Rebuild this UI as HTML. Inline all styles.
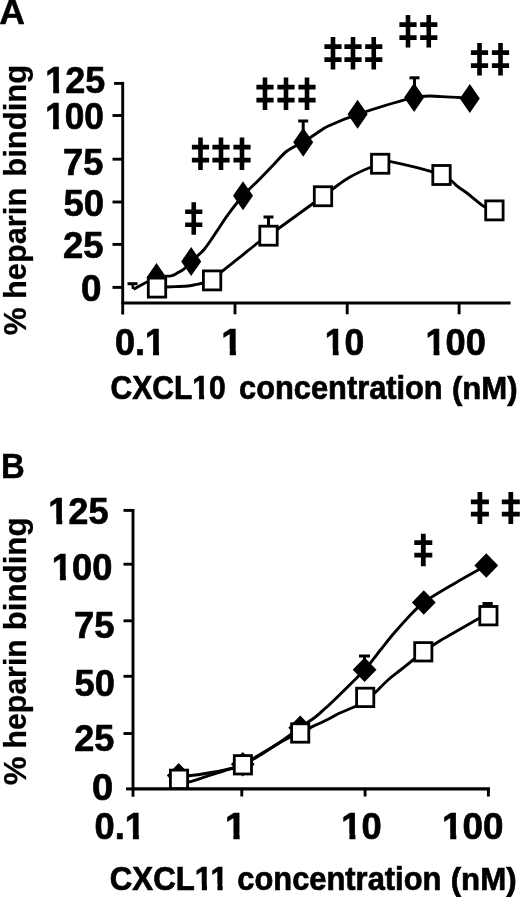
<!DOCTYPE html>
<html><head><meta charset="utf-8"><title>Heparin binding</title>
<style>html,body{margin:0;padding:0;background:#fff}svg{display:block;will-change:transform;filter:blur(0.45px);font-family:"Liberation Sans",sans-serif;font-weight:bold;fill:#000}</style>
</head><body>
<svg width="520" height="897" viewBox="0 0 520 897">
<rect width="520" height="897" fill="#fff"/>
<g transform="translate(-0.65,24.43) scale(1.0006,1)"><text font-size="35.66" stroke="#000" stroke-width="0.45">A</text></g>
<line x1="122.7" y1="81.95" x2="122.7" y2="314.5" stroke="#000" stroke-width="2.9"/>
<line x1="121.3" y1="303.0" x2="510.6" y2="303.0" stroke="#000" stroke-width="3.1"/>
<line x1="114.1" y1="83.4" x2="122.7" y2="83.4" stroke="#000" stroke-width="2.9"/>
<line x1="112.5" y1="115.5" x2="122.7" y2="115.5" stroke="#000" stroke-width="2.9"/>
<line x1="112.5" y1="159.2" x2="122.7" y2="159.2" stroke="#000" stroke-width="2.9"/>
<line x1="112.5" y1="202" x2="122.7" y2="202" stroke="#000" stroke-width="2.9"/>
<line x1="112.5" y1="244.4" x2="122.7" y2="244.4" stroke="#000" stroke-width="2.9"/>
<line x1="112.5" y1="287.4" x2="122.7" y2="287.4" stroke="#000" stroke-width="2.9"/>
<line x1="235" y1="303.0" x2="235" y2="314.3" stroke="#000" stroke-width="2.9"/>
<line x1="347.2" y1="303.0" x2="347.2" y2="314.3" stroke="#000" stroke-width="2.9"/>
<line x1="459.1" y1="303.0" x2="459.1" y2="314.3" stroke="#000" stroke-width="2.9"/>
<g transform="translate(45.13,92.73) scale(0.9715,1)"><text font-size="37.04" stroke="#000" stroke-width="0.7">125</text><rect x="0.38" y="-5.83" width="7.91" height="7.48" fill="#fff"/><rect x="14.38" y="-5.83" width="7.14" height="7.48" fill="#fff"/></g>
<g transform="translate(45.18,129.48) scale(0.9518,1)"><text font-size="37.04" stroke="#000" stroke-width="0.7">100</text><rect x="0.38" y="-5.83" width="7.91" height="7.48" fill="#fff"/><rect x="14.38" y="-5.83" width="7.14" height="7.48" fill="#fff"/></g>
<g transform="translate(63.10,174.97) scale(0.9648,1)"><text font-size="37.57" stroke="#000" stroke-width="0.7">75</text></g>
<g transform="translate(63.46,216.03) scale(0.9838,1)"><text font-size="37.04" stroke="#000" stroke-width="0.7">50</text></g>
<g transform="translate(63.06,258.43) scale(0.9847,1)"><text font-size="37.04" stroke="#000" stroke-width="0.7">25</text></g>
<g transform="translate(80.88,300.98) scale(0.9937,1)"><text font-size="37.04" stroke="#000" stroke-width="0.7">0</text></g>
<g transform="translate(114.91,354.68) scale(0.9737,1)"><text font-size="37.04" stroke="#000" stroke-width="0.7">0.1</text><rect x="31.27" y="-5.83" width="7.91" height="7.48" fill="#fff"/><rect x="45.27" y="-5.83" width="7.14" height="7.48" fill="#fff"/></g>
<g transform="translate(221.31,354.80) scale(1.0232,1)"><text font-size="36.81" stroke="#000" stroke-width="0.7">1</text><rect x="0.37" y="-5.81" width="7.87" height="7.46" fill="#fff"/><rect x="14.29" y="-5.81" width="7.11" height="7.46" fill="#fff"/></g>
<g transform="translate(324.87,354.68) scale(0.9584,1)"><text font-size="37.04" stroke="#000" stroke-width="0.7">10</text><rect x="0.38" y="-5.83" width="7.91" height="7.48" fill="#fff"/><rect x="14.38" y="-5.83" width="7.14" height="7.48" fill="#fff"/></g>
<g transform="translate(425.41,354.88) scale(0.9777,1)"><text font-size="37.04" stroke="#000" stroke-width="0.7">100</text><rect x="0.38" y="-5.83" width="7.91" height="7.48" fill="#fff"/><rect x="14.38" y="-5.83" width="7.14" height="7.48" fill="#fff"/></g>
<g transform="translate(110.55,399.22) scale(0.9119,1)"><text font-size="32.96" stroke="#000" stroke-width="0.7">CXCL10</text><rect x="89.84" y="-5.41" width="7.22" height="7.06" fill="#fff"/><rect x="102.58" y="-5.41" width="6.50" height="7.06" fill="#fff"/></g>
<g transform="translate(239.12,399.22) scale(0.9341,1)"><text font-size="32.97" stroke="#000" stroke-width="0.7">concentration</text></g>
<g transform="translate(451.99,399.08) scale(0.9662,1)"><text font-size="32.23" stroke="#000" stroke-width="0.7">(nM)</text></g>
<text transform="translate(25.81,176.64) rotate(-90) scale(1,0.9946)" font-size="30.97" stroke="#000" stroke-width="0.25">binding</text>
<text transform="translate(25.85,299.03) rotate(-90) scale(1,0.9924)" font-size="30.82" stroke="#000" stroke-width="0.25">heparin</text>
<text transform="translate(25.56,335.22) rotate(-90) scale(1,1.0082)" font-size="31.39" stroke="#000" stroke-width="0.25">%</text>
<path d="M133.50 289.20 C137.33 287.25 150.22 279.73 156.50 277.50 C162.78 275.27 167.73 276.55 171.20 275.80 C174.67 275.05 175.13 274.17 177.30 273.00 C179.47 271.83 181.88 270.72 184.20 268.80 C186.52 266.88 187.85 264.77 191.20 261.50 C194.55 258.23 200.10 254.13 204.30 249.20 C208.50 244.27 212.45 237.67 216.40 231.90 C220.35 226.13 223.57 220.62 228.00 214.60 C232.43 208.58 237.92 201.53 243.00 195.80 C248.08 190.07 253.45 185.33 258.50 180.20 C263.55 175.07 268.55 169.87 273.30 165.00 C278.05 160.13 282.02 154.78 287.00 151.00 C291.98 147.22 298.32 145.22 303.20 142.30 C308.08 139.38 312.03 136.25 316.30 133.50 C320.57 130.75 321.92 129.00 328.80 125.80 C335.68 122.60 343.38 119.00 357.60 114.30 C371.82 109.60 400.03 100.55 414.10 97.60 C428.17 94.65 432.72 96.45 442.00 96.60 C451.28 96.75 465.17 98.18 469.80 98.50" fill="none" stroke="#000" stroke-width="2.9" stroke-linejoin="round" stroke-linecap="butt"/>
<path d="M157.00 287.60 C160.00 287.43 170.50 286.82 175.00 286.60 C179.50 286.38 180.83 286.57 184.00 286.30 C187.17 286.03 189.32 285.98 194.00 285.00 C198.68 284.02 207.38 282.70 212.10 280.40 C216.82 278.10 217.65 275.07 222.30 271.20 C226.95 267.33 234.03 261.97 240.00 257.20 C245.97 252.43 253.35 246.18 258.10 242.60 C262.85 239.02 257.68 243.42 268.50 235.70 C279.32 227.97 309.42 206.03 323.00 196.25 C336.58 186.47 340.47 182.42 350.00 177.00 C359.53 171.58 373.03 166.23 380.20 163.75 C387.37 161.27 382.78 160.22 393.00 162.10 C403.22 163.97 430.67 170.88 441.50 175.00 C452.33 179.12 453.88 183.88 458.00 186.80 C462.12 189.72 463.25 190.25 466.25 192.50 C469.25 194.75 472.96 197.92 476.00 200.30 C479.04 202.68 481.43 205.12 484.50 206.80 C487.57 208.48 492.75 209.80 494.40 210.40" fill="none" stroke="#000" stroke-width="2.9" stroke-linejoin="round" stroke-linecap="butt"/>
<line x1="127.5" y1="283.7" x2="137.5" y2="283.7" stroke="#000" stroke-width="3"/>
<line x1="132.5" y1="283.7" x2="133" y2="289" stroke="#000" stroke-width="2.5"/>
<line x1="268.5" y1="217" x2="268.5" y2="228" stroke="#000" stroke-width="3"/>
<line x1="263.5" y1="217" x2="273.5" y2="217" stroke="#000" stroke-width="3"/>
<line x1="303.2" y1="121" x2="303.2" y2="130" stroke="#000" stroke-width="3"/>
<line x1="298.2" y1="121" x2="308.2" y2="121" stroke="#000" stroke-width="3"/>
<line x1="414.5" y1="77.8" x2="414.5" y2="86" stroke="#000" stroke-width="3"/>
<line x1="409.5" y1="77.8" x2="419.5" y2="77.8" stroke="#000" stroke-width="3"/>
<path d="M156.5 263.0L166.5 277.5L156.5 292.0L146.5 277.5Z" fill="#000"/>
<path d="M191.2 247.0L201.2 261.5L191.2 276.0L181.2 261.5Z" fill="#000"/>
<path d="M243 181.3L253.0 195.8L243 210.3L233.0 195.8Z" fill="#000"/>
<path d="M303.2 127.80000000000001L313.2 142.3L303.2 156.8L293.2 142.3Z" fill="#000"/>
<path d="M357.6 99.8L367.6 114.3L357.6 128.8L347.6 114.3Z" fill="#000"/>
<path d="M414.1 83.1L424.1 97.6L414.1 112.1L404.1 97.6Z" fill="#000"/>
<path d="M469.8 84.0L479.8 98.5L469.8 113.0L459.8 98.5Z" fill="#000"/>
<rect x="148.30" y="278.10" width="17.40" height="19.00" fill="#fff" stroke="#000" stroke-width="2.8"/>
<rect x="203.40" y="270.90" width="17.40" height="19.00" fill="#fff" stroke="#000" stroke-width="2.8"/>
<rect x="259.80" y="226.20" width="17.40" height="19.00" fill="#fff" stroke="#000" stroke-width="2.8"/>
<rect x="314.30" y="186.75" width="17.40" height="19.00" fill="#fff" stroke="#000" stroke-width="2.8"/>
<rect x="371.50" y="154.25" width="17.40" height="19.00" fill="#fff" stroke="#000" stroke-width="2.8"/>
<rect x="432.80" y="165.50" width="17.40" height="19.00" fill="#fff" stroke="#000" stroke-width="2.8"/>
<rect x="485.70" y="200.90" width="17.40" height="19.00" fill="#fff" stroke="#000" stroke-width="2.8"/>
<path d="M191.45 202.2h4.6v32.5h-4.6z M185.15 209.50h17.2v4.6h-17.2z M185.15 222.50h17.2v4.6h-17.2z" fill="#000"/>
<path d="M198.20 137.5h4.6v32.5h-4.6z M191.90 144.80h17.2v4.6h-17.2z M191.90 157.80h17.2v4.6h-17.2z" fill="#000"/>
<path d="M218.70 137.5h4.6v32.5h-4.6z M212.40 144.80h17.2v4.6h-17.2z M212.40 157.80h17.2v4.6h-17.2z" fill="#000"/>
<path d="M239.70 137.5h4.6v32.5h-4.6z M233.40 144.80h17.2v4.6h-17.2z M233.40 157.80h17.2v4.6h-17.2z" fill="#000"/>
<path d="M262.70 77.5h4.6v32.5h-4.6z M256.40 84.80h17.2v4.6h-17.2z M256.40 97.80h17.2v4.6h-17.2z" fill="#000"/>
<path d="M283.70 77.5h4.6v32.5h-4.6z M277.40 84.80h17.2v4.6h-17.2z M277.40 97.80h17.2v4.6h-17.2z" fill="#000"/>
<path d="M304.70 77.5h4.6v32.5h-4.6z M298.40 84.80h17.2v4.6h-17.2z M298.40 97.80h17.2v4.6h-17.2z" fill="#000"/>
<path d="M330.70 37h4.6v32.5h-4.6z M324.40 44.30h17.2v4.6h-17.2z M324.40 57.30h17.2v4.6h-17.2z" fill="#000"/>
<path d="M350.70 37h4.6v32.5h-4.6z M344.40 44.30h17.2v4.6h-17.2z M344.40 57.30h17.2v4.6h-17.2z" fill="#000"/>
<path d="M371.45 37h4.6v32.5h-4.6z M365.15 44.30h17.2v4.6h-17.2z M365.15 57.30h17.2v4.6h-17.2z" fill="#000"/>
<path d="M405.70 15h4.6v32.5h-4.6z M399.40 22.30h17.2v4.6h-17.2z M399.40 35.30h17.2v4.6h-17.2z" fill="#000"/>
<path d="M426.45 15h4.6v32.5h-4.6z M420.15 22.30h17.2v4.6h-17.2z M420.15 35.30h17.2v4.6h-17.2z" fill="#000"/>
<path d="M477.20 43h4.6v32.5h-4.6z M470.90 50.30h17.2v4.6h-17.2z M470.90 63.30h17.2v4.6h-17.2z" fill="#000"/>
<path d="M498.20 43h4.6v32.5h-4.6z M491.90 50.30h17.2v4.6h-17.2z M491.90 63.30h17.2v4.6h-17.2z" fill="#000"/>
<g transform="translate(1.02,477.77) scale(0.9314,1)"><text font-size="35.29" stroke="#000" stroke-width="0.45">B</text></g>
<line x1="133" y1="508.9" x2="133" y2="796.8" stroke="#000" stroke-width="2.9"/>
<line x1="131.6" y1="788.9" x2="490" y2="788.9" stroke="#000" stroke-width="3.2"/>
<line x1="123.5" y1="510.4" x2="133" y2="510.4" stroke="#000" stroke-width="2.9"/>
<line x1="123.5" y1="564.2" x2="133" y2="564.2" stroke="#000" stroke-width="2.9"/>
<line x1="123.5" y1="620.8" x2="133" y2="620.8" stroke="#000" stroke-width="2.9"/>
<line x1="123.5" y1="676.3" x2="133" y2="676.3" stroke="#000" stroke-width="2.9"/>
<line x1="123.5" y1="733.5" x2="133" y2="733.5" stroke="#000" stroke-width="2.9"/>
<line x1="126" y1="788.9" x2="133" y2="788.9" stroke="#000" stroke-width="3"/>
<line x1="241.8" y1="788.9" x2="241.8" y2="796.5" stroke="#000" stroke-width="2.9"/>
<line x1="365.1" y1="788.9" x2="365.1" y2="796.5" stroke="#000" stroke-width="2.9"/>
<line x1="488.4" y1="788.9" x2="488.4" y2="796.5" stroke="#000" stroke-width="2.9"/>
<g transform="translate(48.22,524.03) scale(0.9767,1)"><text font-size="37.04" stroke="#000" stroke-width="0.7">125</text><rect x="0.38" y="-5.83" width="7.91" height="7.48" fill="#fff"/><rect x="14.38" y="-5.83" width="7.14" height="7.48" fill="#fff"/></g>
<g transform="translate(51.81,579.83) scale(0.9795,1)"><text font-size="37.04" stroke="#000" stroke-width="0.7">100</text><rect x="0.38" y="-5.83" width="7.91" height="7.48" fill="#fff"/><rect x="14.38" y="-5.83" width="7.14" height="7.48" fill="#fff"/></g>
<g transform="translate(73.89,637.77) scale(0.9699,1)"><text font-size="37.57" stroke="#000" stroke-width="0.7">75</text></g>
<g transform="translate(74.56,695.88) scale(0.9786,1)"><text font-size="37.04" stroke="#000" stroke-width="0.7">50</text></g>
<g transform="translate(74.27,750.83) scale(0.9744,1)"><text font-size="37.04" stroke="#000" stroke-width="0.7">25</text></g>
<g transform="translate(92.03,799.93) scale(1.0282,1)"><text font-size="37.04" stroke="#000" stroke-width="0.7">0</text></g>
<g transform="translate(94.60,839.13) scale(0.9783,1)"><text font-size="37.04" stroke="#000" stroke-width="0.7">0.1</text><rect x="31.27" y="-5.83" width="7.91" height="7.48" fill="#fff"/><rect x="45.27" y="-5.83" width="7.14" height="7.48" fill="#fff"/></g>
<g transform="translate(224.89,839.15) scale(1.0323,1)"><text font-size="36.81" stroke="#000" stroke-width="0.7">1</text><rect x="0.37" y="-5.81" width="7.87" height="7.46" fill="#fff"/><rect x="14.29" y="-5.81" width="7.11" height="7.46" fill="#fff"/></g>
<g transform="translate(341.31,839.13) scale(0.9800,1)"><text font-size="37.04" stroke="#000" stroke-width="0.7">10</text><rect x="0.38" y="-5.83" width="7.91" height="7.48" fill="#fff"/><rect x="14.38" y="-5.83" width="7.14" height="7.48" fill="#fff"/></g>
<g transform="translate(441.97,839.13) scale(0.9951,1)"><text font-size="37.04" stroke="#000" stroke-width="0.7">100</text><rect x="0.38" y="-5.83" width="7.91" height="7.48" fill="#fff"/><rect x="14.38" y="-5.83" width="7.14" height="7.48" fill="#fff"/></g>
<g transform="translate(109.80,889.72) scale(0.9519,1)"><text font-size="32.82" stroke="#000" stroke-width="0.7">CXCL11</text><rect x="89.45" y="-5.40" width="7.19" height="7.05" fill="#fff"/><rect x="102.14" y="-5.40" width="6.48" height="7.05" fill="#fff"/><rect x="105.89" y="-5.40" width="7.19" height="7.05" fill="#fff"/><rect x="118.59" y="-5.40" width="6.48" height="7.05" fill="#fff"/></g>
<g transform="translate(237.32,889.72) scale(0.9398,1)"><text font-size="32.84" stroke="#000" stroke-width="0.7">concentration</text></g>
<g transform="translate(450.69,890.08) scale(0.9693,1)"><text font-size="32.23" stroke="#000" stroke-width="0.7">(nM)</text></g>
<text transform="translate(25.81,630.26) rotate(-90) scale(1,0.9854)" font-size="31.25" stroke="#000" stroke-width="0.25">binding</text>
<text transform="translate(25.85,748.49) rotate(-90) scale(1,1.0103)" font-size="30.27" stroke="#000" stroke-width="0.25">heparin</text>
<text transform="translate(25.56,785.25) rotate(-90) scale(1,0.9745)" font-size="32.47" stroke="#000" stroke-width="0.25">%</text>
<path d="M178.70 775.40 C180.38 775.47 183.42 776.28 188.80 775.80 C194.18 775.32 203.55 773.83 211.00 772.50 C218.45 771.17 228.20 769.18 233.50 767.80 C238.80 766.42 238.05 766.62 242.80 764.20 C247.55 761.78 255.63 757.10 262.00 753.30 C268.37 749.50 274.63 745.67 281.00 741.40 C287.37 737.13 294.37 731.85 300.20 727.70 C306.03 723.55 311.87 719.70 316.00 716.50 C320.13 713.30 322.08 711.12 325.00 708.50 C327.92 705.88 326.90 707.25 333.50 700.80 C340.10 694.35 356.78 678.27 364.60 669.80 C372.42 661.33 375.58 656.00 380.40 650.00 C385.22 644.00 389.15 638.93 393.50 633.80 C397.85 628.67 401.45 624.42 406.50 619.20 C411.55 613.98 415.72 608.50 423.80 602.50 C431.88 596.50 444.58 589.37 455.00 583.20 C465.42 577.03 481.08 568.45 486.30 565.50" fill="none" stroke="#000" stroke-width="2.9" stroke-linejoin="round" stroke-linecap="butt"/>
<path d="M179.00 780.00 C180.63 780.33 184.30 782.57 188.80 782.00 C193.30 781.43 200.22 778.43 206.00 776.60 C211.78 774.77 217.37 772.97 223.50 771.00 C229.63 769.03 236.38 767.65 242.80 764.80 C249.22 761.95 255.63 757.72 262.00 753.90 C268.37 750.08 274.63 745.52 281.00 741.90 C287.37 738.28 292.87 735.72 300.20 732.20 C307.53 728.68 318.50 723.95 325.00 720.80 C331.50 717.65 334.10 715.72 339.20 713.30 C344.30 710.88 351.27 708.55 355.60 706.30 C359.93 704.05 362.00 702.03 365.20 699.80 C368.40 697.57 371.00 696.20 374.80 692.90 C378.60 689.60 383.72 683.82 388.00 680.00 C392.28 676.18 396.33 673.33 400.50 670.00 C404.67 666.67 409.22 663.03 413.00 660.00 C416.78 656.97 418.50 655.13 423.20 651.80 C427.90 648.47 435.07 643.77 441.20 640.00 C447.33 636.23 452.13 633.67 460.00 629.20 C467.87 624.73 483.67 615.87 488.40 613.20" fill="none" stroke="#000" stroke-width="2.9" stroke-linejoin="round" stroke-linecap="butt"/>
<line x1="364.5" y1="656" x2="364.5" y2="662" stroke="#000" stroke-width="3"/>
<line x1="359.0" y1="656" x2="370.0" y2="656" stroke="#000" stroke-width="3"/>
<line x1="482.5" y1="603.9" x2="492.7" y2="603.9" stroke="#000" stroke-width="3.8"/>
<path d="M178.7 763.1L190.6 775.4L178.7 787.6999999999999L166.79999999999998 775.4Z" fill="#000"/>
<path d="M242.8 751.9000000000001L254.70000000000002 764.2L242.8 776.5L230.9 764.2Z" fill="#000"/>
<path d="M300.2 715.4000000000001L312.09999999999997 727.7L300.2 740.0L288.3 727.7Z" fill="#000"/>
<path d="M364.6 657.5L376.5 669.8L364.6 682.0999999999999L352.70000000000005 669.8Z" fill="#000"/>
<path d="M423.8 590.2L435.7 602.5L423.8 614.8L411.90000000000003 602.5Z" fill="#000"/>
<path d="M486.3 553.2L498.2 565.5L486.3 577.8L474.40000000000003 565.5Z" fill="#000"/>
<rect x="170.40" y="770.10" width="17.20" height="18.40" fill="#fff" stroke="#000" stroke-width="2.8"/>
<rect x="234.30" y="755.60" width="17.20" height="18.40" fill="#fff" stroke="#000" stroke-width="2.8"/>
<rect x="291.60" y="723.80" width="17.20" height="18.40" fill="#fff" stroke="#000" stroke-width="2.8"/>
<rect x="356.60" y="688.20" width="17.20" height="18.40" fill="#fff" stroke="#000" stroke-width="2.8"/>
<rect x="414.70" y="642.60" width="17.20" height="18.40" fill="#fff" stroke="#000" stroke-width="2.8"/>
<rect x="479.80" y="606.50" width="17.20" height="18.40" fill="#fff" stroke="#000" stroke-width="2.8"/>
<path d="M420.90 533.8h4.8v32.4h-4.8z M414.30 540.35h18v4.7h-18z M414.30 552.85h18v4.7h-18z" fill="#000"/>
<path d="M477.50 492h4.8v32h-4.8z M470.90 499.55h18v4.7h-18z M470.90 511.75h18v4.7h-18z" fill="#000"/>
<path d="M508.40 492h4.8v32h-4.8z M501.80 499.55h18v4.7h-18z M501.80 511.75h18v4.7h-18z" fill="#000"/>
</svg>
</body></html>
